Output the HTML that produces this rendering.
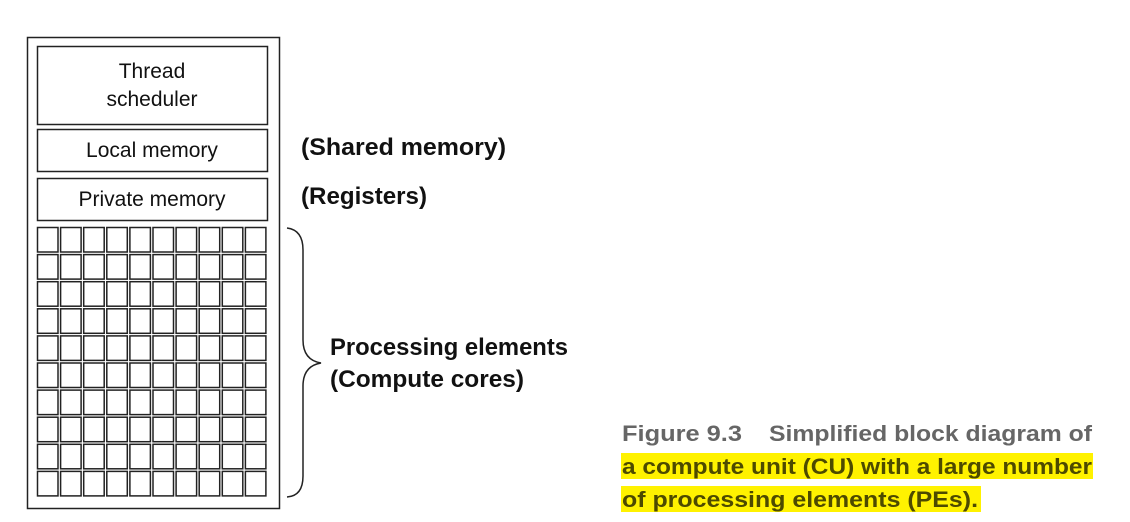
<!DOCTYPE html>
<html><head><meta charset="utf-8"><style>html,body{margin:0;padding:0;background:#fff}svg{display:block}</style></head>
<body>
<svg width="1130" height="522" viewBox="0 0 1130 522" xmlns="http://www.w3.org/2000/svg">
<rect x="27.5" y="37.5" width="252" height="471" fill="none" stroke="#222" stroke-width="1.5"/>
<rect x="37.5" y="46.5" width="230" height="78" fill="none" stroke="#222" stroke-width="1.5"/>
<text font-family="Liberation Sans, sans-serif" font-size="21" text-anchor="middle" x="152" y="78" fill="#111">Thread</text>
<text font-family="Liberation Sans, sans-serif" font-size="21" text-anchor="middle" x="152" y="106" fill="#111">scheduler</text>
<rect x="37.5" y="129.5" width="230" height="42" fill="none" stroke="#222" stroke-width="1.5"/>
<text font-family="Liberation Sans, sans-serif" font-size="21" text-anchor="middle" x="152" y="157" fill="#111">Local memory</text>
<rect x="37.5" y="178.5" width="230" height="42" fill="none" stroke="#222" stroke-width="1.5"/>
<text font-family="Liberation Sans, sans-serif" font-size="21" text-anchor="middle" x="152" y="206" fill="#111">Private memory</text>
<g id="grid"></g>
<path d="M287 228 Q303 230 303 250 L303 340 Q303 360 321 363 Q303 366 303 386 L303 476 Q303 496 287 497" fill="none" stroke="#222" stroke-width="1.5"/>
<g font-family="Liberation Sans Narrow, Liberation Sans, sans-serif" font-weight="bold" font-size="24" fill="#111">
<text x="301" y="155" textLength="205" lengthAdjust="spacingAndGlyphs">(Shared memory)</text>
<text x="301" y="204" textLength="126" lengthAdjust="spacingAndGlyphs">(Registers)</text>
<text x="330" y="355" textLength="238" lengthAdjust="spacingAndGlyphs">Processing elements</text>
<text x="330" y="387" textLength="194" lengthAdjust="spacingAndGlyphs">(Compute cores)</text>
</g>
<rect x="621" y="453" width="472" height="26" fill="#fff200"/>
<rect x="621" y="486" width="360" height="26" fill="#fff200"/>
<g font-family="Liberation Sans, sans-serif" font-weight="bold" font-size="22">
<text x="622" y="441" fill="#666" textLength="120" lengthAdjust="spacingAndGlyphs">Figure 9.3</text>
<text x="769" y="441" fill="#666" textLength="323" lengthAdjust="spacingAndGlyphs">Simplified block diagram of</text>
<text x="622" y="474" fill="#4d4a00" textLength="470" lengthAdjust="spacingAndGlyphs">a compute unit (CU) with a large number</text>
<text x="622" y="507" fill="#4d4a00" textLength="356" lengthAdjust="spacingAndGlyphs">of processing elements (PEs).</text>
</g>
</svg>
<script>
const rows = 10, cols = 10;
const g = document.getElementById('grid');
const ns = 'http://www.w3.org/2000/svg';
for (let r = 0; r < rows; r++) {
  for (let c = 0; c < cols; c++) {
    const rc = document.createElementNS(ns, 'rect');
    rc.setAttribute('x', 37.5 + c * 23.1);
    rc.setAttribute('y', 227.5 + r * 27.1);
    rc.setAttribute('width', 20.5);
    rc.setAttribute('height', 24.5);
    rc.setAttribute('fill', 'none');
    rc.setAttribute('stroke', '#222');
    rc.setAttribute('stroke-width', '1.5');
    
    
    g.appendChild(rc);
  }
}
</script>
</body></html>
